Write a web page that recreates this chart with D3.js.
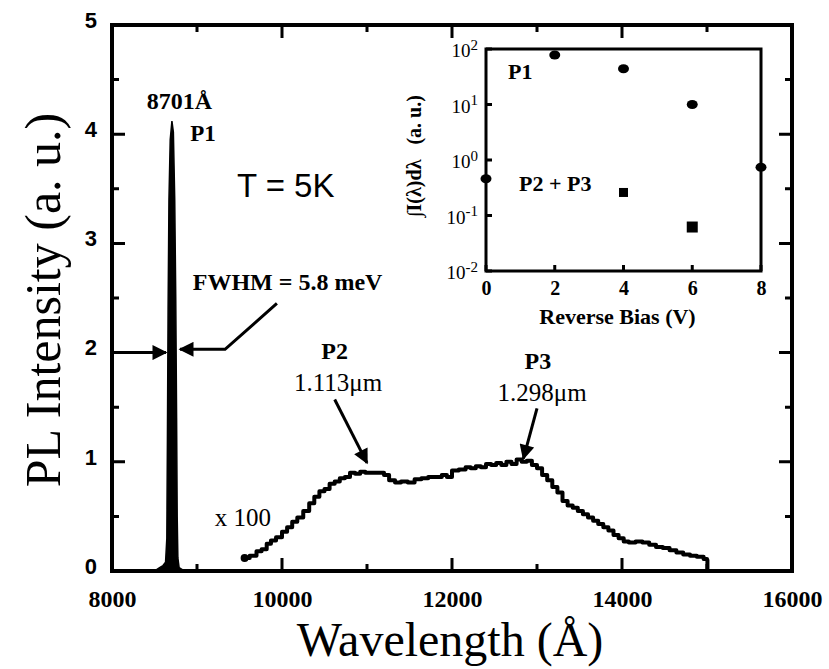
<!DOCTYPE html>
<html><head><meta charset="utf-8">
<script src="https://cdn.jsdelivr.net/npm/d3@7"></script>
<style>
body{margin:0;background:#fff}
</style>
</head><body>
<svg id="c" width="829" height="669" font-family="Liberation Serif, Times New Roman, serif"></svg>
<script>
// ---------- data ----------
const xMajorTicks = [8000, 10000, 12000, 14000, 16000];
const xMinorTicks = [9000, 11000, 13000, 15000];
const yMajorTicks = [0, 1, 2, 3, 4, 5];
const yMinorTicks = [0.5, 1.5, 2.5, 3.5, 4.5];

// x1 spectrum (P1 exciton line)
const p1Wavelength = [8000, 8450, 8520, 8560, 8600, 8630, 8645, 8652, 8660, 8670, 8685, 8705, 8722, 8738, 8750, 8760, 8767, 8775, 8790, 8850, 15000];
const p1Intensity  = [0,    0,    0.01, 0.03, 0.05, 0.08, 0.3,  1.2,  2.4,  3.4,  3.95, 4.12, 4.02, 3.4,  2.5,  1.4,  0.5,  0.12, 0.03, 0,    0];

// x100 spectrum (P2 + P3 band)
const bandWavelength = [9560,9620,9700,9760,9820,9870,9930,10000,10060,10120,10180,10250,10320,10380,10440,10500,10560,10620,10680,10740,10800,10860,10920,10980,11060,11140,11200,11260,11330,11400,11480,11560,11640,11720,11800,11880,11940,12000,12080,12160,12220,12280,12340,12400,12460,12520,12580,12640,12700,12760,12820,12880,12940,13000,13060,13120,13180,13240,13300,13360,13420,13480,13540,13600,13660,13720,13780,13840,13900,13960,14020,14080,14160,14240,14320,14400,14480,14560,14640,14720,14800,14880,14960,15000,15005];
const bandIntensity  = [0.12,0.14,0.18,0.20,0.25,0.28,0.31,0.36,0.40,0.45,0.49,0.55,0.62,0.68,0.73,0.75,0.80,0.82,0.85,0.86,0.90,0.89,0.91,0.90,0.90,0.90,0.88,0.83,0.81,0.82,0.81,0.84,0.85,0.86,0.86,0.88,0.86,0.92,0.93,0.95,0.94,0.96,0.95,0.98,0.97,0.99,0.97,1.00,0.98,1.02,1.00,1.01,0.97,0.94,0.88,0.83,0.77,0.72,0.64,0.60,0.58,0.55,0.52,0.49,0.46,0.43,0.40,0.37,0.33,0.30,0.27,0.26,0.27,0.26,0.24,0.22,0.21,0.19,0.17,0.15,0.14,0.13,0.11,0.10,0.0];

// inset: integrated intensity vs reverse bias
const biasP1 = [0, 2, 4, 6, 8];
const integP1 = [0.46, 78, 44, 10, 0.74];
const biasP23 = [4, 6];
const integP23 = [0.26, 0.062];
const insetXTicks = [0, 2, 4, 6, 8];
const insetYTicks = [-2, -1, 0, 1, 2];   // exponents of 10

const svg = d3.select("#c");
const W = 829, H = 669;
const mg = {left:112, right:W-792, top:25, bottom:H-571};
const x = d3.scaleLinear().domain([8000,16000]).range([mg.left, W-mg.right]);
const y = d3.scaleLinear().domain([0,5]).range([H-mg.bottom, mg.top]);

const g = svg.append("g");

// P1 spectrum (filled spike)
const p1 = p1Wavelength.map((w,i)=>[w,p1Intensity[i]]);
g.append("path").datum(p1)
  .attr("d", d3.area().x(d=>x(d[0])).y0(y(0)).y1(d=>y(d[1])))
  .attr("fill","#000").attr("stroke","#000").attr("stroke-width",1.5);

// x100 band
const band = bandWavelength.map((w,i)=>[w,bandIntensity[i]]);
g.append("path").datum(band)
  .attr("d", d3.line().x(d=>x(d[0])).y(d=>y(d[1])).curve(d3.curveStepAfter))
  .attr("fill","none").attr("stroke","#000").attr("stroke-width",4).attr("stroke-linejoin","round");
g.append("circle").attr("cx",x(bandWavelength[0])).attr("cy",y(bandIntensity[0])).attr("r",4).attr("fill","#000");

// tick label axes (labels only)
function labelsOnly(sel){ sel.select(".domain").remove(); sel.selectAll(".tick line").remove(); }
g.append("g").attr("transform",`translate(0,${y(0)})`)
  .call(d3.axisBottom(x).tickValues(xMajorTicks).tickSize(0).tickPadding(19).tickFormat(d3.format("d")))
  .call(labelsOnly)
  .call(s=>s.selectAll("text").attr("font-size",24).attr("font-weight","bold").attr("font-family","Liberation Serif").attr("fill","#000"));
g.append("g").attr("transform",`translate(${x(8000)},0)`)
  .call(d3.axisLeft(y).tickValues(yMajorTicks).tickSize(0).tickPadding(15).tickFormat(d3.format("d")))
  .call(labelsOnly)
  .call(s=>s.selectAll("text").attr("font-size",22).attr("font-weight","bold").attr("font-family","Liberation Sans").attr("fill","#000").attr("dy","0.1em"));

// axis titles
svg.append("text").attr("x",x(12000)-2).attr("y",656).attr("text-anchor","middle")
  .attr("font-size",48).text("Wavelength (Å)");
svg.append("text").attr("transform",`translate(60,300) rotate(-90)`).attr("text-anchor","middle")
  .attr("font-size",50).text("PL Intensity (a. u.)");

// ---------- annotations ----------
const defs = svg.append("defs");
defs.append("marker").attr("id","ah").attr("viewBox","0 0 10 10").attr("refX",9).attr("refY",5)
  .attr("markerWidth",7).attr("markerHeight",5).attr("orient","auto-start-reverse")
  .append("path").attr("d","M0,0 L10,5 L0,10 Z").attr("fill","#000");
function arrow(pts){
  g.append("path").attr("d", d3.line()(pts.map(p=>[x(p[0]),y(p[1])])))
    .attr("fill","none").attr("stroke","#000").attr("stroke-width",3).attr("marker-end","url(#ah)");
}
arrow([[8000,2.0],[8635,2.0]]);
arrow([[9940,2.45],[9330,2.03],[8800,2.03]]);
arrow([[10620,1.57],[11000,0.99]]);
arrow([[13000,1.49],[12840,1.03]]);

function label(t, wl, iv, size, opts={}){
  return g.append("text").attr("x",x(wl)).attr("y",y(iv)).attr("dy","0.35em")
    .attr("font-size",size).attr("font-weight",opts.bold?"bold":"normal")
    .attr("font-family",opts.family||"Liberation Serif").attr("fill","#000")
    .attr("text-anchor",opts.anchor||"start").text(t);
}
label("8701Å", 8410, 4.31, 24, {bold:true});
label("P1", 8920, 4.01, 23, {bold:true});
label("T = 5K", 9470, 3.53, 33, {family:"Liberation Sans"});
label("FWHM = 5.8 meV", 8950, 2.65, 24, {bold:true});
label("P2", 10620, 2.02, 24, {bold:true, anchor:"middle"});
label("1.113μm", 10660, 1.73, 25, {anchor:"middle"});
label("P3", 13010, 1.93, 24, {bold:true, anchor:"middle"});
label("1.298μm", 13060, 1.64, 25, {anchor:"middle"});
label("x 100", 9210, 0.49, 25);

// ---------- inset ----------
const ix = d3.scaleLinear().domain([0,8]).range([486,761]);
const iy = d3.scaleLog().domain([0.01,100]).range([271,49]);
const ig = svg.append("g");
ig.append("rect").attr("x",ix(0)).attr("y",iy(100)).attr("width",ix(8)-ix(0)).attr("height",iy(0.01)-iy(100))
  .attr("fill","#fff").attr("stroke","#000").attr("stroke-width",3);
ig.append("g").attr("transform",`translate(0,${iy(0.01)})`)
  .call(d3.axisBottom(ix).tickValues(insetXTicks).tickSize(0).tickPadding(10).tickFormat(d3.format("d")))
  .call(labelsOnly)
  .call(s=>s.selectAll("text").attr("font-size",20).attr("font-weight","bold").attr("font-family","Liberation Serif").attr("fill","#000"));
const yAx = ig.append("g").attr("transform",`translate(${ix(0)},0)`)
  .call(d3.axisLeft(iy).tickValues(insetYTicks.map(e=>Math.pow(10,e))).tickSize(0).tickFormat(()=>""))
  .call(labelsOnly);
yAx.selectAll(".tick").each(function(d){
  const t = d3.select(this).append("text").attr("x",-8).attr("dy","0.4em").attr("text-anchor","end")
    .attr("font-size",19).attr("fill","#000").attr("font-family","Liberation Serif");
  t.append("tspan").text("10");
  t.append("tspan").attr("dy","-0.5em").attr("font-size",15).text(String(Math.round(Math.log10(d))));
});
ig.selectAll("ellipse.p1").data(biasP1.map((b,i)=>[b,integP1[i]])).join("ellipse").attr("class","p1")
  .attr("cx",d=>ix(d[0])).attr("cy",d=>iy(d[1])).attr("rx",5.5).attr("ry",4.5).attr("fill","#000");
ig.selectAll("rect.p23").data(biasP23.map((b,i)=>[b,integP23[i]])).join("rect").attr("class","p23")
  .attr("x",(d,i)=>ix(d[0])-(i?5.5:4.5)).attr("y",(d,i)=>iy(d[1])-(i?5.5:4.5))
  .attr("width",(d,i)=>i?11:9).attr("height",(d,i)=>i?11:9).attr("fill","#000");
ig.append("text").attr("x",508).attr("y",iy(40)).attr("dy","0.35em").attr("font-size",22).attr("font-weight","bold").text("P1");
ig.append("text").attr("x",519).attr("y",iy(0.38)).attr("dy","0.35em").attr("font-size",22).attr("font-weight","bold").text("P2 + P3");
ig.append("text").attr("x",(ix(0)+ix(8))/2-6).attr("y",324).attr("text-anchor","middle").attr("font-size",22).attr("font-weight","bold").text("Reverse Bias (V)");
ig.append("text").attr("transform",`translate(421,${(iy(0.01)+iy(100))/2-4}) rotate(-90)`).attr("text-anchor","middle")
  .attr("font-size",20).attr("font-weight","bold").attr("xml:space","preserve").text("∫I(λ)dλ   (a. u.)");

// ---------- frame and ticks as filled shapes (outer box minus inner box), drawn last ----------
const L = x(8000), R = x(16000), T = y(5), B = y(0), bw = 2;
const frameFill = `M${L-bw},${T-bw}H${R+bw}V${B+bw}H${L-bw}Z M${L+bw},${T+bw}V${B-bw}H${R-bw}V${T+bw}Z`;
svg.append("path").attr("d", frameFill).attr("fill","#000").attr("fill-rule","evenodd");
function tickBoxes(vals, scale, horizontal, base, len){
  return vals.map(v => {
    const p = scale(v);
    return horizontal
      ? `M${p-1.5},${base}H${p+1.5}V${base+len}H${p-1.5}Z`
      : `M${base},${p-1.5}V${p+1.5}H${base+len}V${p-1.5}Z`;
  }).join("");
}
const tickFill = [
  tickBoxes(xMajorTicks, x, true, B, -13), tickBoxes(xMinorTicks, x, true, B, -7),
  tickBoxes(xMajorTicks, x, true, T, 13),  tickBoxes(xMinorTicks, x, true, T, 7),
  tickBoxes(yMajorTicks, y, false, L, 13), tickBoxes(yMinorTicks, y, false, L, 7),
  tickBoxes(yMajorTicks, y, false, R, -13), tickBoxes(yMinorTicks, y, false, R, -7),
  tickBoxes(insetXTicks, ix, true, iy(0.01), -6),
  tickBoxes(insetYTicks.map(e=>Math.pow(10,e)), iy, false, ix(0), 6)
].join("");
svg.append("path").attr("d", tickFill).attr("fill","#000");
</script>
</body></html>
